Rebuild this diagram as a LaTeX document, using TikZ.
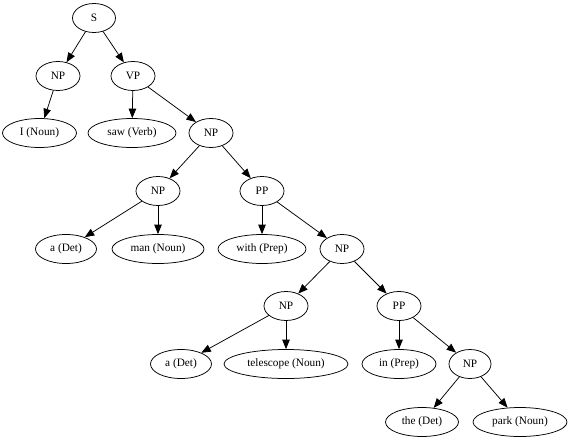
\documentclass[tikz,border=0pt]{standalone}
\usepackage{fontspec}
\setmainfont{Liberation Serif}
\usetikzlibrary{shapes.geometric,arrows.meta}
\begin{document}
\begin{tikzpicture}[x=1pt,y=-1pt,
  tn/.style={draw=black, line width=0.75pt, ellipse, inner sep=0pt, minimum height=29pt, font=\fontsize{11.3}{13}\selectfont},
  edge/.style={draw=black, line width=0.75pt, -{Triangle[length=9.5pt,width=7.5pt]}}]
\useasboundingbox (0,0) rectangle (569,439);
\node[tn, minimum width=43pt] (S) at (94,18) {S};
\node[tn, minimum width=44pt] (NP1) at (58,76) {NP};
\node[tn, minimum width=44pt] (VP) at (133,76) {VP};
\node[tn, minimum width=74pt] (I) at (39.5,133) {I (Noun)};
\node[tn, minimum width=88pt] (saw) at (132,133) {saw (Verb)};
\node[tn, minimum width=44pt] (NP2) at (211,133) {NP};
\node[tn, minimum width=44pt] (NP3) at (158,191) {NP};
\node[tn, minimum width=44pt] (PP1) at (262,191) {PP};
\node[tn, minimum width=61pt] (a1) at (66,249) {a (Det)};
\node[tn, minimum width=92pt] (man) at (158,249) {man (Noun)};
\node[tn, minimum width=88pt] (with) at (262,249) {with (Prep)};
\node[tn, minimum width=44pt] (NP4) at (342,249) {NP};
\node[tn, minimum width=44pt] (NP5) at (286,306) {NP};
\node[tn, minimum width=44pt] (PP2) at (399,306) {PP};
\node[tn, minimum width=61pt] (a2) at (181,364) {a (Det)};
\node[tn, minimum width=124pt] (tel) at (286,364) {telescope (Noun)};
\node[tn, minimum width=74pt] (in) at (399,364) {in (Prep)};
\node[tn, minimum width=42pt] (NP6) at (470,364) {NP};
\node[tn, minimum width=73pt] (the) at (422,422) {the (Det)};
\node[tn, minimum width=94pt] (park) at (520,422) {park (Noun)};
\draw[edge] (S) -- (NP1);
\draw[edge] (S) -- (VP);
\draw[edge] (NP1) -- (I);
\draw[edge] (VP) -- (saw);
\draw[edge] (VP) -- (NP2);
\draw[edge] (NP2) -- (NP3);
\draw[edge] (NP2) -- (PP1);
\draw[edge] (NP3) -- (a1);
\draw[edge] (NP3) -- (man);
\draw[edge] (PP1) -- (with);
\draw[edge] (PP1) -- (NP4);
\draw[edge] (NP4) -- (NP5);
\draw[edge] (NP4) -- (PP2);
\draw[edge] (NP5) -- (a2);
\draw[edge] (NP5) -- (tel);
\draw[edge] (PP2) -- (in);
\draw[edge] (PP2) -- (NP6);
\draw[edge] (NP6) -- (the);
\draw[edge] (NP6) -- (park);
\end{tikzpicture}
\end{document}
